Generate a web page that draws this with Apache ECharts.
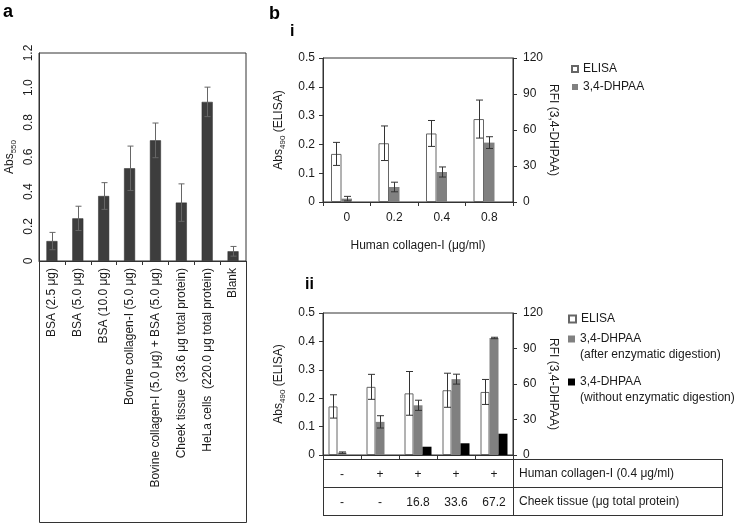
<!DOCTYPE html>
<html><head><meta charset="utf-8">
<script src="https://cdn.jsdelivr.net/npm/echarts@6/dist/echarts.min.js"></script>
<style>html,body{margin:0;padding:0;background:#fff}#c{width:746px;height:526px}</style>
</head><body><div id="c"></div>
<script>
// ---------- Panel a ----------
const aCategories = ['BSA (2.5 μg)', 'BSA (5.0 μg)', 'BSA (10.0 μg)', 'Bovine collagen-I (5.0 μg)',
  'Bovine collagen-I (5.0 μg) + BSA (5.0 μg)', 'Cheek tissue  (33.6 μg total protein)',
  'HeLa cells  (220.0 μg total protein)', 'Blank'];
const aValues = [0.115, 0.246, 0.375, 0.535, 0.696, 0.337, 0.918, 0.056];
const aErrors = [0.05, 0.07, 0.077, 0.128, 0.1, 0.108, 0.085, 0.028];
const aTicks = [0, 0.2, 0.4, 0.6, 0.8, 1.0, 1.2];

// ---------- Panel b(i) ----------
const biCategories = ['0', '0.2', '0.4', '0.8'];
const biElisa = [0.167, 0.204, 0.238, 0.288];
const biElisaErr = [0.04, 0.06, 0.045, 0.066];
const biDhpaa = [2.8, 12.5, 25.0, 49.5];
const biDhpaaErr = [1.9, 4.0, 4.2, 4.9];

// ---------- Panel b(ii) ----------
const biiIds = ['g1', 'g2', 'g3', 'g4', 'g5'];
const biiCollagenRow = ['-', '+', '+', '+', '+'];
const biiCheekRow = ['-', '-', '16.8', '33.6', '67.2'];
const biiRowNames = ['Human collagen-I (0.4 μg/ml)', 'Cheek tissue (μg total protein)'];
const biiElisa = [0.171, 0.24, 0.217, 0.228, 0.222];
const biiElisaErr = [0.041, 0.044, 0.077, 0.06, 0.044];
const biiAfter = [2.0, 28.0, 42.0, 64.1, 98.9];
const biiAfterErr = [0.6, 5.2, 4.3, 4.2, 0.6];
const biiWithout = [null, null, 7.0, 9.9, 18.0];

const FONT = '"Liberation Sans", Arial, sans-serif';
const TXT = '#1a1a1a';
const AX = '#333';
const GREY = '#808080';

function errSeries(name, xi, yi, values, errors, offset, color, cap) {
  return {
    type: 'custom', name: name, xAxisIndex: xi, yAxisIndex: yi, z: 5, silent: true,
    data: values.map((v, i) => [i, v, errors[i]]),
    renderItem: function (params, api) {
      const i = api.value(0), v = api.value(1), e = api.value(2);
      const top = api.coord([i, v + e]);
      const bot = api.coord([i, Math.max(v - e, 0)]);
      const x = Math.round(top[0] + offset) + 0.5;
      const st = { stroke: color, lineWidth: 1 };
      return { type: 'group', children: [
        { type: 'line', shape: { x1: x, y1: top[1], x2: x, y2: bot[1] }, style: st },
        { type: 'line', shape: { x1: x - cap, y1: top[1], x2: x + cap, y2: top[1] }, style: st },
        { type: 'line', shape: { x1: x - cap, y1: bot[1], x2: x + cap, y2: bot[1] }, style: st }
      ] };
    }
  };
}

const lbl = { color: TXT, fontFamily: FONT, fontSize: 12 };
const subRich = {
  n: { fontSize: 12, color: TXT, fontFamily: FONT, lineHeight: 16 },
  s: { fontSize: 8, color: TXT, fontFamily: FONT, lineHeight: 16, verticalAlign: 'bottom' }
};

function bValueAxis(grid, side, max, interval, name, rot, gap, margin, rich) {
  return {
    gridIndex: grid, type: 'value', position: side, min: 0, max: max, interval: interval,
    axisLine: { show: true, lineStyle: { color: AX } },
    axisTick: { show: true, length: 4, lineStyle: { color: AX } },
    splitLine: { show: false },
    axisLabel: Object.assign({ margin: margin }, lbl),
    name: name, nameLocation: 'middle', nameRotate: rot, nameGap: gap,
    nameTextStyle: Object.assign({ rich: rich || {} }, lbl)
  };
}

const legendText = { fontSize: 12, lineHeight: 16, color: TXT, fontFamily: FONT };

const option = {
  animation: false,
  backgroundColor: '#fff',
  textStyle: { fontFamily: FONT },
  grid: [
    { left: 39, top: 53, width: 207, height: 208, show: true, borderColor: AX, borderWidth: 1, outerBoundsMode: 'none', containLabel: false },
    { left: 323, top: 58, width: 190, height: 144, show: true, borderColor: AX, borderWidth: 1, outerBoundsMode: 'none', containLabel: false },
    { left: 323, top: 313, width: 190, height: 142, show: true, borderColor: AX, borderWidth: 1, outerBoundsMode: 'none', containLabel: false }
  ],
  xAxis: [
    { gridIndex: 0, type: 'category', data: aCategories,
      axisLine: { lineStyle: { color: AX } },
      axisTick: { show: true, length: 4, lineStyle: { color: AX } },
      axisLabel: { rotate: 90, interval: 0, margin: 7, fontSize: 12, color: TXT, fontFamily: FONT } },
    { gridIndex: 1, type: 'category', data: biCategories,
      axisLine: { lineStyle: { color: AX } },
      axisTick: { show: true, length: 4, lineStyle: { color: AX } },
      axisLabel: Object.assign({ margin: 10, interval: 0 }, lbl),
      name: 'Human collagen-I (μg/ml)', nameLocation: 'middle', nameGap: 38,
      nameTextStyle: lbl },
    { gridIndex: 2, type: 'category', data: biiIds,
      axisLine: { lineStyle: { color: AX } },
      axisTick: { show: true, length: 4, lineStyle: { color: AX } },
      axisLabel: Object.assign({ margin: 6, interval: 0, lineHeight: 28,
        formatter: (v, i) => biiCollagenRow[i] + '\n' + biiCheekRow[i] }, lbl) }
  ],
  yAxis: [
    { gridIndex: 0, type: 'value', min: 0, max: 1.2, interval: 0.2,
      axisLine: { show: true, lineStyle: { color: AX } },
      axisTick: { show: false }, splitLine: { show: false },
      axisLabel: Object.assign({ rotate: 90, margin: 4,
        formatter: v => aTicks.includes(+v.toFixed(1)) ? (v === 0 ? '0' : v.toFixed(1)) : '' }, lbl),
      name: '{n|Abs}{s|550}', nameLocation: 'middle', nameRotate: 90, nameGap: 21,
      nameTextStyle: Object.assign({ rich: subRich }, lbl) },
    bValueAxis(1, 'left', 0.5, 0.1, '{n|Abs}{s|490}{n| (ELISA)}', 90, 36, 8, subRich),
    bValueAxis(1, 'right', 120, 30, 'RFI (3,4-DHPAA)', -90, 32, 10),
    bValueAxis(2, 'left', 0.5, 0.1, '{n|Abs}{s|490}{n| (ELISA)}', 90, 36, 8, subRich),
    bValueAxis(2, 'right', 120, 30, 'RFI (3,4-DHPAA)', -90, 32, 10)
  ],
  legend: [
    { data: ['ELISA', '3,4-DHPAA'], orient: 'vertical', left: 571, top: 61, padding: 0, icon: 'rect',
      itemWidth: 6, itemHeight: 6, itemGap: 2, selectedMode: false,
      textStyle: legendText },
    { data: ['ELISA'], orient: 'vertical', left: 568, top: 311, padding: 0, icon: 'rect',
      itemWidth: 7, itemHeight: 7, selectedMode: false,
      textStyle: legendText },
    { data: ['3,4-DHPAA (after enzymatic digestion)'], orient: 'vertical', left: 568, top: 315, padding: 0, icon: 'rect',
      itemWidth: 7, itemHeight: 7, selectedMode: false,
      formatter: () => '\n3,4-DHPAA\n(after enzymatic digestion)',
      textStyle: legendText },
    { data: ['3,4-DHPAA (without enzymatic digestion)'], orient: 'vertical', left: 568, top: 358, padding: 0, icon: 'rect',
      itemWidth: 7, itemHeight: 7, selectedMode: false,
      formatter: () => '\n3,4-DHPAA\n(without enzymatic digestion)',
      textStyle: legendText }
  ],
  series: [
    { type: 'bar', name: 'Abs550', xAxisIndex: 0, yAxisIndex: 0, data: aValues, barWidth: 11,
      itemStyle: { color: '#3d3d3d', borderColor: '#2a2a2a', borderWidth: 0.5 } },
    errSeries('err-a', 0, 0, aValues, aErrors, 0, '#666', 3),

    { type: 'bar', name: 'ELISA', xAxisIndex: 1, yAxisIndex: 1, data: biElisa, barWidth: 10.5, barGap: '0%',
      itemStyle: { color: '#fff', borderColor: '#666', borderWidth: 1 } },
    { type: 'bar', name: '3,4-DHPAA', xAxisIndex: 1, yAxisIndex: 2, data: biDhpaa, barWidth: 10.5, barGap: '0%',
      itemStyle: { color: GREY } },
    { type: 'bar', name: 'placeholder-i', xAxisIndex: 1, yAxisIndex: 2, data: [], barWidth: 10.5, barGap: '0%' },
    errSeries('err-bi-1', 1, 1, biElisa, biElisaErr, -10.5, '#333', 3.5),
    errSeries('err-bi-2', 1, 2, biDhpaa, biDhpaaErr, 0, '#333', 3.5),

    { type: 'bar', name: 'ELISA', xAxisIndex: 2, yAxisIndex: 3, data: biiElisa, barWidth: 9, barGap: '0%',
      itemStyle: { color: '#fff', borderColor: '#666', borderWidth: 1 } },
    { type: 'bar', name: '3,4-DHPAA (after enzymatic digestion)', xAxisIndex: 2, yAxisIndex: 4, data: biiAfter,
      barWidth: 9, barGap: '0%', itemStyle: { color: GREY } },
    { type: 'bar', name: '3,4-DHPAA (without enzymatic digestion)', xAxisIndex: 2, yAxisIndex: 4, data: biiWithout,
      barWidth: 9, barGap: '0%', itemStyle: { color: '#000' } },
    errSeries('err-bii-1', 2, 3, biiElisa, biiElisaErr, -9, '#333', 3.5),
    errSeries('err-bii-2', 2, 4, biiAfter, biiAfterErr, 0, '#333', 3.5)
  ],
  graphic: [
    { type: 'text', x: 3, y: 12, style: { text: 'a', font: 'bold 18px ' + FONT, fill: '#000', verticalAlign: 'middle' } },
    { type: 'text', x: 269, y: 14, style: { text: 'b', font: 'bold 18px ' + FONT, fill: '#000', verticalAlign: 'middle' } },
    { type: 'text', x: 290, y: 32, style: { text: 'i', font: 'bold 16px ' + FONT, fill: '#000', verticalAlign: 'middle' } },
    { type: 'text', x: 305, y: 285, style: { text: 'ii', font: 'bold 16px ' + FONT, fill: '#000', verticalAlign: 'middle' } },
    // panel a label box
    { type: 'rect', shape: { x: 39.5, y: 261.5, width: 207, height: 261 }, style: { fill: 'none', stroke: AX, lineWidth: 1 } },
    // panel b(ii) table
    { type: 'line', shape: { x1: 323, y1: 459.5, x2: 723, y2: 459.5 }, style: { stroke: AX, lineWidth: 1 } },
    { type: 'line', shape: { x1: 323, y1: 487.5, x2: 723, y2: 487.5 }, style: { stroke: AX, lineWidth: 1 } },
    { type: 'line', shape: { x1: 323, y1: 515.5, x2: 723, y2: 515.5 }, style: { stroke: AX, lineWidth: 1 } },
    { type: 'line', shape: { x1: 323.5, y1: 455, x2: 323.5, y2: 516 }, style: { stroke: AX, lineWidth: 1 } },
    { type: 'line', shape: { x1: 513.5, y1: 455, x2: 513.5, y2: 516 }, style: { stroke: AX, lineWidth: 1 } },
    { type: 'line', shape: { x1: 722.5, y1: 459, x2: 722.5, y2: 516 }, style: { stroke: AX, lineWidth: 1 } },
    { type: 'text', x: 519, y: 474, style: { text: biiRowNames[0], font: '12px ' + FONT, fill: TXT, verticalAlign: 'middle' } },
    { type: 'text', x: 519, y: 502, style: { text: biiRowNames[1], font: '12px ' + FONT, fill: TXT, verticalAlign: 'middle' } }
  ]
};

const chart = echarts.init(document.getElementById('c'), null, { renderer: 'canvas' });
chart.setOption(option);
</script>
</body></html>
